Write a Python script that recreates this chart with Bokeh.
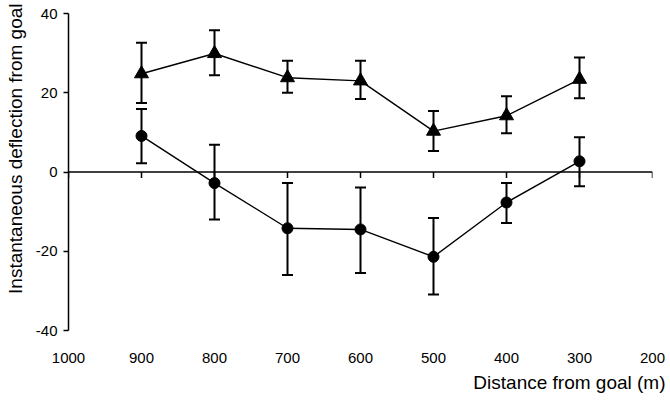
from bokeh.plotting import figure
from bokeh.models import Range1d, FixedTicker, LinearAxis, Whisker, ColumnDataSource, TeeHead, Span, Title
from bokeh.embed import file_html
from bokeh.resources import INLINE

distance = [900, 800, 700, 600, 500, 400, 300]
tri_mean = [24.8, 29.9, 23.8, 23.0, 10.3, 14.2, 23.4]
tri_upper = [32.6, 35.8, 28.1, 28.1, 15.4, 19.1, 28.9]
tri_lower = [17.4, 24.4, 20.0, 18.4, 5.3, 9.8, 18.6]
circ_mean = [9.1, -2.8, -14.2, -14.5, -21.4, -7.7, 2.7]
circ_upper = [15.9, 6.9, -2.8, -3.9, -11.6, -2.8, 8.8]
circ_lower = [2.2, -12.0, -26.0, -25.5, -30.9, -12.9, -3.6]

x_ticks = [1000, 900, 800, 700, 600, 500, 400, 300, 200]
y_ticks = [-40, -20, 0, 20, 40]
x_label = "Distance from goal (m)"
y_label = "Instantaneous deflection from goal"

FONT = "Liberation Sans"

p = figure(width=668, height=400, x_range=Range1d(1000, 200), y_range=Range1d(-40, 40),
           output_backend="svg", toolbar_location=None,
           min_border_left=66, min_border_top=13, min_border_right=16, min_border_bottom=68,
           x_axis_type=None)
p.outline_line_color = None
p.xgrid.visible = False
p.ygrid.visible = False
p.background_fill_color = "white"
p.border_fill_color = "white"

# bottom axis: tick labels only
xb = LinearAxis(ticker=FixedTicker(ticks=x_ticks),
                major_label_overrides={t: str(t) for t in x_ticks})
xb.axis_line_color = None
xb.major_tick_line_color = None
xb.minor_tick_line_color = None
xb.major_tick_out = 0
xb.major_label_standoff = 22
xb.major_label_text_font = FONT
xb.major_label_text_font_size = "15px"
xb.major_label_text_color = "black"
p.add_layout(xb, "below")

# horizontal axis line at y = 0 with downward ticks
p.add_layout(Span(location=0, dimension="width", line_color="black", line_width=1.5))
p.segment(x0=x_ticks, y0=[0] * len(x_ticks), x1=x_ticks, y1=[-1.5] * len(x_ticks),
          line_color="black", line_width=1.5)

ya = p.yaxis[0]
ya.ticker = FixedTicker(ticks=y_ticks)
ya.major_label_overrides = {t: str(t) for t in y_ticks}
ya.axis_line_color = "black"
ya.axis_line_width = 1.5
ya.major_tick_line_color = "black"
ya.major_tick_line_width = 1.5
ya.major_tick_out = 5
ya.major_tick_in = 0
ya.minor_tick_line_color = None
ya.major_label_standoff = 6
ya.major_label_text_font = FONT
ya.major_label_text_font_size = "15px"
ya.major_label_text_color = "black"

# axis titles
xt = Title(text=x_label, align="right", offset=-13, standoff=12, vertical_align="top",
           text_font=FONT, text_font_size="19px", text_font_style="normal", text_color="black")
p.add_layout(xt, "below")
yt = Title(text=y_label, align="right", offset=-10, standoff=9, vertical_align="top",
           text_font=FONT, text_font_size="19px", text_font_style="normal", text_color="black")
p.add_layout(yt, "left")

src_t = ColumnDataSource(dict(x=distance, y=tri_mean, up=tri_upper, lo=tri_lower))
src_c = ColumnDataSource(dict(x=distance, y=circ_mean, up=circ_upper, lo=circ_lower))

for src in (src_t, src_c):
    w = Whisker(source=src, base="x", upper="up", lower="lo", dimension="height",
                line_color="black", line_width=2,
                upper_head=TeeHead(size=11, line_width=2, line_color="black"),
                lower_head=TeeHead(size=11, line_width=2, line_color="black"))
    p.add_layout(w)
    p.line("x", "y", source=src, line_color="black", line_width=1.4)

p.scatter("x", "y", source=src_t, marker="triangle", size=14, fill_color="black", line_color="black")
p.scatter("x", "y", source=src_c, marker="circle", size=11, fill_color="black", line_color="black")

open("out.html", "w").write(file_html(p, INLINE))
